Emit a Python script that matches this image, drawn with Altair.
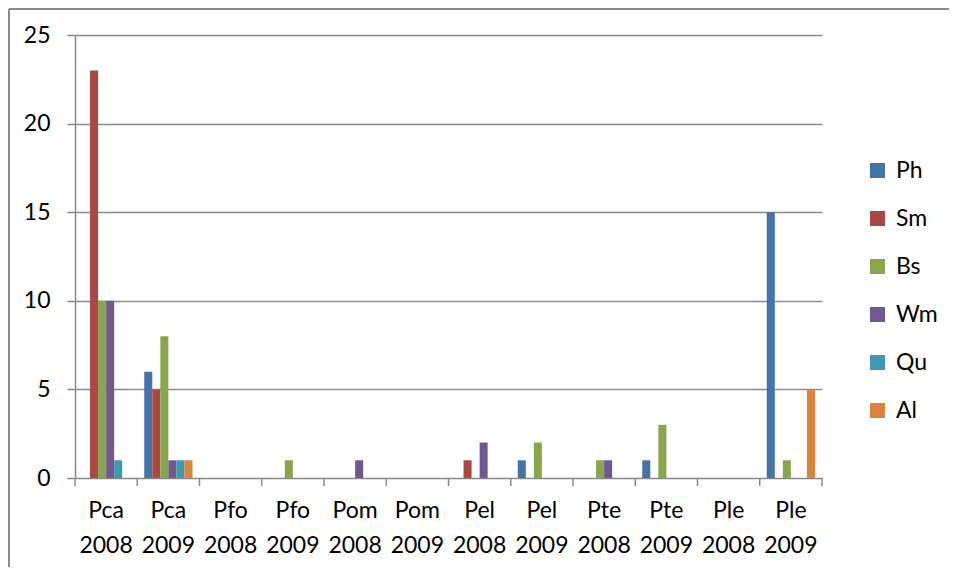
import altair as alt
import pandas as pd

categories = ["Pca 2008", "Pca 2009", "Pfo 2008", "Pfo 2009", "Pom 2008", "Pom 2009",
              "Pel 2008", "Pel 2009", "Pte 2008", "Pte 2009", "Ple 2008", "Ple 2009"]
series = ["Ph", "Sm", "Bs", "Wm", "Qu", "Al"]
ph = [0, 6, 0, 0, 0, 0, 0, 1, 0, 1, 0, 15]
sm = [23, 5, 0, 0, 0, 0, 1, 0, 0, 0, 0, 0]
bs = [10, 8, 0, 1, 0, 0, 0, 2, 1, 3, 0, 1]
wm = [10, 1, 0, 0, 1, 0, 2, 0, 1, 0, 0, 0]
qu = [1, 1, 0, 0, 0, 0, 0, 0, 0, 0, 0, 0]
al = [0, 1, 0, 0, 0, 0, 0, 0, 0, 0, 0, 5]
colors = ["#4572A7", "#AA4643", "#89A54E", "#71588F", "#4198AF", "#DB843D"]
y_ticks = [0, 5, 10, 15, 20, 25]

values = {"Ph": ph, "Sm": sm, "Bs": bs, "Wm": wm, "Qu": qu, "Al": al}
rows = []
for s in series:
    for c, v in zip(categories, values[s]):
        rows.append({"category": c, "series": s, "value": v})
df = pd.DataFrame(rows)

W, H = 747, 443
GRAY = "#898989"
FONT = "Lato"
FS = 23

xscale = alt.Scale(paddingInner=0.225, paddingOuter=0.1125)

bars = alt.Chart(df).transform_filter("datum.value > 0").mark_bar().encode(
    x=alt.X("category:N", sort=categories, scale=xscale,
            axis=alt.Axis(title=None, ticks=False, domain=False, labelAngle=0,
                          labelExpr="split(datum.label, ' ')",
                          labelFont=FONT, labelFontSize=FS, labelColor="black",
                          labelLineHeight=35, labelPadding=21, labelBaseline="top")),
    xOffset=alt.XOffset("series:N", sort=series,
                        scale=alt.Scale(paddingInner=0, paddingOuter=0)),
    y=alt.Y("value:Q", scale=alt.Scale(domain=[0, 25], nice=False),
            axis=alt.Axis(title=None, values=y_ticks, grid=True, gridColor=GRAY,
                          gridWidth=1.5, domainColor=GRAY, domainWidth=1.5,
                          tickColor=GRAY, tickWidth=1.5, tickSize=8,
                          labelFont=FONT, labelFontSize=FS, labelColor="black",
                          labelPadding=17)),
    color=alt.Color("series:N", sort=series,
                    scale=alt.Scale(domain=series, range=colors),
                    legend=alt.Legend(title=None, orient="none", legendX=791, legendY=124,
                                      symbolType="square", symbolSize=225,
                                      symbolStrokeWidth=0, symbolOpacity=1,
                                      labelFont=FONT, labelFontSize=FS,
                                      labelColor="black", labelOffset=7,
                                      rowPadding=24, padding=0)),
)

tick_df = pd.DataFrame({"category": categories})
ticks = alt.Chart(tick_df).mark_rule(color=GRAY, strokeWidth=1.5, xOffset=-31.125).encode(
    x=alt.X("category:N", sort=categories),
    y=alt.value(H), y2=alt.value(H + 8),
)

end_tick = alt.Chart(alt.Data(values=[{}])).mark_rule(color=GRAY, strokeWidth=1.5).encode(
    x=alt.value(W), y=alt.value(H), y2=alt.value(H + 8),
)

border_top = alt.Chart(alt.Data(values=[{}])).mark_rule(color="#8c8c8c", strokeWidth=2).encode(
    x=alt.value(-66), x2=alt.value(900), y=alt.value(-26),
)
border_left = alt.Chart(alt.Data(values=[{}])).mark_rule(color="#8c8c8c", strokeWidth=2).encode(
    x=alt.value(-66), y=alt.value(-26), y2=alt.value(540),
)

chart = alt.layer(border_top, border_left, bars, ticks, end_tick).properties(
    width=W, height=H,
    padding={"left": 67, "top": 27, "right": 127, "bottom": 89},
    autosize=alt.AutoSizeParams(type="none"),
).configure_view(stroke=None)

chart.save("out.html", embed_options={"renderer": "svg", "actions": False})
